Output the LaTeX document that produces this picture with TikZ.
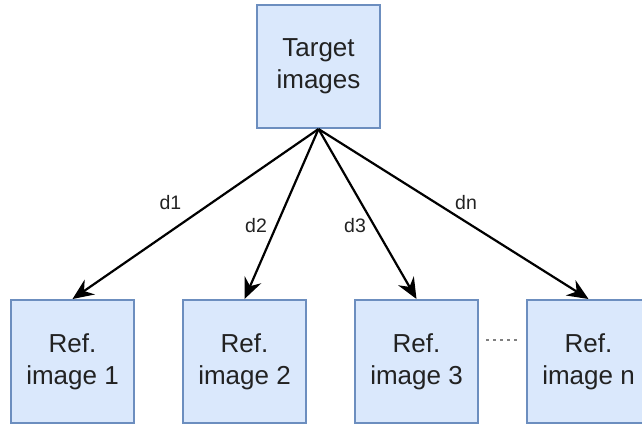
\documentclass[tikz,border=0pt]{standalone}
\usepackage{fontspec}
\setmainfont{Liberation Sans}
\usetikzlibrary{arrows.meta}
\definecolor{boxfill}{HTML}{DAE8FC}
\definecolor{boxline}{HTML}{6C8EBF}
\definecolor{txt}{HTML}{222222}
\begin{document}
\begin{tikzpicture}[x=1pt,y=-1pt,
  box/.style={draw=boxline,fill=boxfill,line width=2pt,minimum width=123pt,minimum height=123pt,inner sep=0pt,align=center,text=txt,font=\fontsize{26}{32}\selectfont},
  link/.style={draw=black,line width=2.2pt,-{Stealth[length=21pt,width=18pt,inset=7pt]}},
  lbl/.style={text=txt,font=\fontsize{19.5}{21}\selectfont,inner sep=0pt}]
\useasboundingbox (0,0) rectangle (642,426);
\node[box] (t) at (318.5,66.5) {Target\\images};
\node[box] (r1) at (72.5,361.5) {Ref.\\image 1};
\node[box] (r2) at (244.5,361.5) {Ref.\\image 2};
\node[box] (r3) at (416.5,361.5) {Ref.\\image 3};
\node[box] (rn) at (588.5,361.5) {Ref.\\image n};
\draw[link] (t.south) -- (r1.north);
\draw[link] (t.south) -- (r2.north);
\draw[link] (t.south) -- (r3.north);
\draw[link] (t.south) -- (rn.north);
\node[lbl] (l1) at (170.5,203) {d1};
\node[lbl] (l2) at (256,226) {d2};
\node[lbl] (l3) at (355,226) {d3};
\node[lbl] (ln) at (466,203) {dn};
\draw[gray,line width=1.5pt,dash pattern=on 2.5pt off 4.5pt,shorten <=7pt,shorten >=7pt]
  ([yshift=21.5pt]r3.east) -- ([yshift=21.5pt]rn.west);
\end{tikzpicture}
\end{document}
